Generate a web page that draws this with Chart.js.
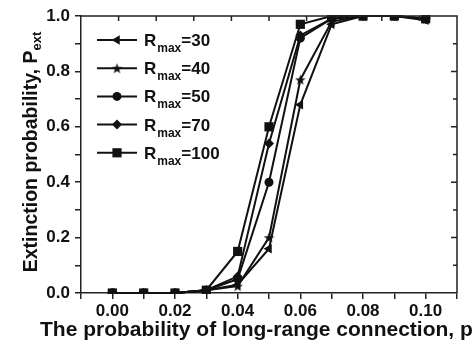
<!DOCTYPE html>
<html><head><meta charset="utf-8">
<script src="https://cdn.jsdelivr.net/npm/chart.js@4/dist/chart.umd.min.js"></script>
<style>html,body{margin:0;padding:0;background:#fff}#w{width:472px;height:345px;position:relative}</style>
</head><body><div id="w"><canvas id="c"></canvas></div>
<script>
// ---- data ----
const pValues = [0.00, 0.01, 0.02, 0.03, 0.04, 0.05, 0.06, 0.07, 0.08, 0.09, 0.10];
const rmax30  = [0, 0, 0, 0.01, 0.03, 0.16, 0.68, 0.97, 1.00, 1.00, 0.985];
const rmax40  = [0, 0, 0, 0.01, 0.025, 0.20, 0.77, 0.98, 1.00, 1.00, 0.99];
const rmax50  = [0, 0, 0, 0.01, 0.05, 0.40, 0.92, 0.99, 1.00, 1.00, 0.99];
const rmax70  = [0, 0, 0, 0.01, 0.06, 0.54, 0.93, 0.99, 1.00, 1.00, 0.99];
const rmax100 = [0, 0, 0, 0.01, 0.15, 0.60, 0.97, 1.00, 1.00, 1.00, 0.99];
const seriesNames = ['30', '40', '50', '70', '100'];
const xTitle = 'The probability of long-range connection, p';
const yTitleMain = 'Extinction probability, P';
const yTitleSub = 'ext';
const legendMain = 'R';
const legendSub = 'max';
const topTickValues = [0.002, 0.014, 0.026, 0.038, 0.050, 0.062, 0.074, 0.086, 0.098];

const FONT = '"Liberation Sans", Arial, sans-serif';
const INK = '#111';

// filled 5-point star image
function makeStar(size) {
  const cv = document.createElement('canvas');
  cv.width = size; cv.height = size;
  const g = cv.getContext('2d');
  const cx = size / 2, cy = size / 2 + 0.5, R = size / 2, r = R * 0.42;
  g.beginPath();
  for (let i = 0; i < 10; i++) {
    const a = -Math.PI / 2 + i * Math.PI / 5;
    const rr = i % 2 === 0 ? R : r;
    g.lineTo(cx + rr * Math.cos(a), cy + rr * Math.sin(a));
  }
  g.closePath();
  g.fillStyle = INK; g.fill();
  return cv;
}
const starImg = makeStar(11);

const styles = [
  {pointStyle: 'triangle', radius: 5.5, rotation: -90},
  {pointStyle: starImg, radius: 5.5, rotation: 0},
  {pointStyle: 'circle', radius: 4.5, rotation: 0},
  {pointStyle: 'rectRot', radius: 5, rotation: 0},
  {pointStyle: 'rect', radius: 6.5, rotation: 0}
];
const allSeries = [rmax30, rmax40, rmax50, rmax70, rmax100];

const datasets = allSeries.map((vals, i) => ({
  label: legendMain + legendSub + '=' + seriesNames[i],
  data: pValues.map((p, j) => ({x: p, y: vals[j]})),
  showLine: true,
  clip: 1,
  borderColor: INK,
  backgroundColor: INK,
  borderWidth: 2,
  pointStyle: styles[i].pointStyle,
  pointRadius: styles[i].radius,
  pointRotation: styles[i].rotation,
  pointBorderWidth: 0,
  pointBackgroundColor: INK,
  pointBorderColor: INK,
  tension: 0
}));

const decor = {
  id: 'decor',
  afterDraw(chart) {
    const ctx = chart.ctx;
    const a = chart.chartArea;
    const xs = chart.scales.x, ys = chart.scales.y;
    ctx.save();
    ctx.strokeStyle = '#222';
    ctx.lineWidth = 1.5;
    // top & right borders
    ctx.beginPath();
    ctx.moveTo(a.left, a.top); ctx.lineTo(a.right, a.top); ctx.lineTo(a.right, a.bottom);
    ctx.stroke();
    // top inward ticks
    ctx.beginPath();
    topTickValues.forEach(v => {
      const px = xs.getPixelForValue(v);
      ctx.moveTo(px, a.top); ctx.lineTo(px, a.top + 5);
    });
    // right inward ticks
    for (let k = 1; k < 10; k++) {
      const py = ys.getPixelForValue(k / 10);
      const len = k % 2 === 0 ? 6 : 4;
      ctx.moveTo(a.right, py); ctx.lineTo(a.right - len, py);
    }
    ctx.stroke();

    ctx.fillStyle = INK;
    // y title
    ctx.save();
    ctx.translate(37, 152);
    ctx.rotate(-Math.PI / 2);
    ctx.font = 'bold 19.5px ' + FONT;
    const wMain = ctx.measureText(yTitleMain).width;
    ctx.font = 'bold 13px ' + FONT;
    const wSub = ctx.measureText(yTitleSub).width;
    const x0 = -(wMain + wSub) / 2;
    ctx.textBaseline = 'alphabetic';
    ctx.textAlign = 'left';
    ctx.font = 'bold 19.5px ' + FONT;
    ctx.fillText(yTitleMain, x0, 0);
    ctx.font = 'bold 13px ' + FONT;
    ctx.fillText(yTitleSub, x0 + wMain, 4);
    ctx.restore();

    // x title
    ctx.font = 'bold 21px ' + FONT;
    ctx.textAlign = 'left';
    ctx.textBaseline = 'alphabetic';
    ctx.fillText(xTitle, 40, 336);

    // legend
    const rowY0 = 40, rowGap = 28.2;
    chart.data.datasets.forEach((ds, i) => {
      const y = rowY0 + i * rowGap;
      ctx.strokeStyle = INK; ctx.lineWidth = 2;
      ctx.beginPath(); ctx.moveTo(97, y); ctx.lineTo(137, y); ctx.stroke();
      Chart.helpers.drawPoint(ctx, {
        pointStyle: ds.pointStyle, radius: ds.pointRadius, rotation: ds.pointRotation, borderWidth: 0
      }, 117, y);
      ctx.fillStyle = INK;
      ctx.textAlign = 'left';
      ctx.font = 'bold 17px ' + FONT;
      ctx.fillText(legendMain, 144, y + 6);
      const wR = ctx.measureText(legendMain).width;
      ctx.font = 'bold 12px ' + FONT;
      ctx.fillText(legendSub, 144 + wR + 1, y + 12);
      const wM = ctx.measureText(legendSub).width;
      ctx.font = 'bold 17px ' + FONT;
      ctx.fillText('=' + seriesNames[i], 144 + wR + 1 + wM, y + 6);
    });
    ctx.restore();
  }
};

new Chart(document.getElementById('c'), {
  type: 'scatter',
  data: {datasets},
  options: {
    responsive: true,
    maintainAspectRatio: false,
    animation: false,
    layout: {padding: {top: 16, right: 15, left: 0, bottom: 0}},
    plugins: {legend: {display: false}, tooltip: {enabled: false}},
    scales: {
      x: {
        type: 'linear', min: -0.01, max: 0.11,
        afterFit(s) { s.height = 52; },
        afterBuildTicks(s) {
          const t = [];
          for (let k = -1; k <= 11; k++) t.push({value: k / 100});
          s.ticks = t;
        },
        ticks: {
          autoSkip: false, maxRotation: 0, padding: 2,
          color: INK, font: {family: FONT, size: 17, weight: 'bold'},
          callback(v) {
            const k = Math.round(v * 100);
            return (k >= 0 && k <= 10 && k % 2 === 0) ? (k / 100).toFixed(2) : '';
          }
        },
        grid: {drawOnChartArea: false, drawTicks: true, tickLength: 6, color: '#222', lineWidth: 1.5},
        border: {color: '#222', width: 1.5}
      },
      y: {
        min: 0, max: 1,
        afterFit(s) { s.width = 81; },
        afterBuildTicks(s) {
          const t = [];
          for (let k = 0; k <= 10; k++) t.push({value: k / 10});
          s.ticks = t;
        },
        ticks: {
          padding: 5, color: INK, font: {family: FONT, size: 17, weight: 'bold'},
          callback(v) {
            const k = Math.round(v * 10);
            return k % 2 === 0 ? (k / 10).toFixed(1) : '';
          }
        },
        grid: {drawOnChartArea: false, drawTicks: true, tickLength: 6, color: '#222', lineWidth: 1.5},
        border: {color: '#222', width: 1.5}
      }
    }
  },
  plugins: [decor]
});
</script>
</body></html>
